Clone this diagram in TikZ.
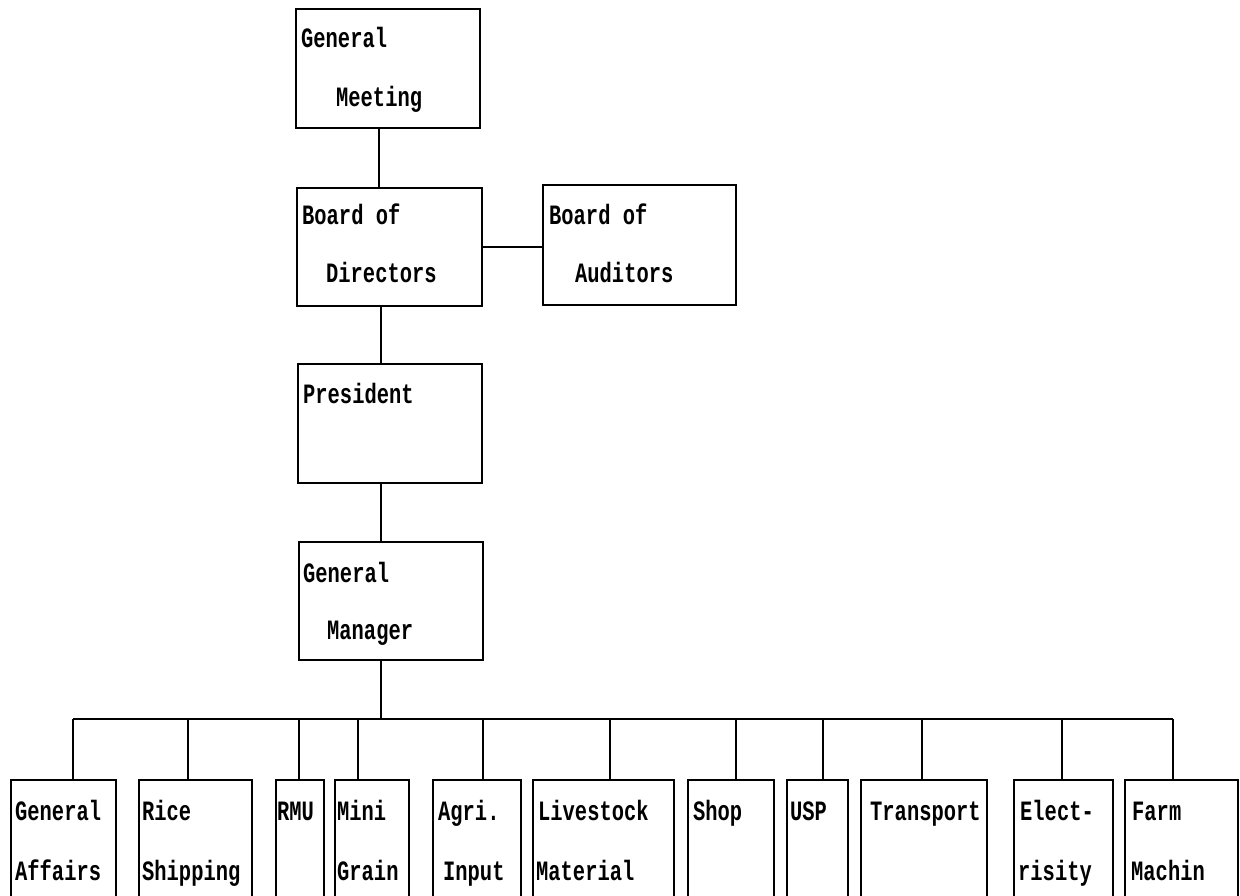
\documentclass[tikz,border=0pt]{standalone}
\usepackage{fontspec}
\newfontfamily\chartfont{Liberation Mono}[FakeStretch=0.73]
\begin{document}
\begin{tikzpicture}[x=1pt,y=-1pt,
  box/.style={draw, line width=1.6pt, inner sep=0pt, anchor=north west},
  lbl/.style={anchor=base west, inner sep=0pt, font=\chartfont\bfseries\fontsize{28}{30}\selectfont},
  conn/.style={line width=1.6pt}]
\clip (0,0) rectangle (1240,896);
% upper boxes
\node[box, minimum width=184pt, minimum height=119pt] (gmeet) at (295,8) {};
\node[box, minimum width=185pt, minimum height=118pt] (bod) at (296,187) {};
\node[box, minimum width=193pt, minimum height=120pt] (boa) at (542,184) {};
\node[box, minimum width=184pt, minimum height=119pt] (pres) at (297,363) {};
\node[box, minimum width=184pt, minimum height=118pt] (mgr) at (298,541) {};
% lower boxes
\node[box, minimum width=105pt, minimum height=140pt] (ga) at (10,779) {};
\node[box, minimum width=113pt, minimum height=140pt] (rs) at (138,779) {};
\node[box, minimum width=48pt, minimum height=140pt] (rmu) at (275,779) {};
\node[box, minimum width=74pt, minimum height=140pt] (mg) at (334,779) {};
\node[box, minimum width=88pt, minimum height=140pt] (ai) at (432,779) {};
\node[box, minimum width=141pt, minimum height=140pt] (lm) at (532,779) {};
\node[box, minimum width=86pt, minimum height=140pt] (shop) at (687,779) {};
\node[box, minimum width=61pt, minimum height=140pt] (usp) at (786,779) {};
\node[box, minimum width=126pt, minimum height=140pt] (tr) at (860,779) {};
\node[box, minimum width=99pt, minimum height=140pt] (el) at (1013,779) {};
\node[box, minimum width=113pt, minimum height=140pt] (fm) at (1124,779) {};
% labels
\node[lbl] (gmeetA) at (301,48) {General};
\node[lbl] (gmeetB) at (336,107) {Meeting};
\node[lbl] (bodA) at (302,225) {Board of};
\node[lbl] (bodB) at (326,283) {Directors};
\node[lbl] (boaA) at (549,225) {Board of};
\node[lbl] (boaB) at (575,283) {Auditors};
\node[lbl] (presA) at (303,403) {President};
\node[lbl] (mgrA) at (303,582) {General};
\node[lbl] (mgrB) at (327,639) {Manager};
\node[lbl] (gaA) at (15,820) {General};
\node[lbl] (gaB) at (15,880) {Affairs};
\node[lbl] (rsA) at (142,820) {Rice};
\node[lbl] (rsB) at (142,880) {Shipping};
\node[lbl] (rmuA) at (277,820) {RMU};
\node[lbl] (mgA) at (337,820) {Mini};
\node[lbl] (mgB) at (337,880) {Grain};
\node[lbl] (aiA) at (438,820) {Agri.};
\node[lbl] (aiB) at (443,880) {Input};
\node[lbl] (lmA) at (538,820) {Livestock};
\node[lbl] (lmB) at (536,880) {Material};
\node[lbl] (shopA) at (693,820) {Shop};
\node[lbl] (uspA) at (790,820) {USP};
\node[lbl] (trA) at (870,820) {Transport};
\node[lbl] (elA) at (1020,820) {Elect-};
\node[lbl] (elB) at (1018,880) {risity};
\node[lbl] (fmA) at (1132,820) {Farm};
\node[lbl] (fmB) at (1131,880) {Machin};
% spine connectors
\coordinate (sp1) at (379,0);
\coordinate (sp2) at (381,0);
\draw[conn] (sp1 |- gmeet.south) -- (sp1 |- bod.north);
\draw[conn] (bod.east) -- (bod.east -| boa.west);
\draw[conn] (sp2 |- bod.south) -- (sp2 |- pres.north);
\draw[conn] (sp2 |- pres.south) -- (sp2 |- mgr.north);
% bus
\coordinate (d1) at (73,719);
\coordinate (d2) at (188,719);
\coordinate (d3) at (299,719);
\coordinate (d4) at (358,719);
\coordinate (d5) at (483,719);
\coordinate (d6) at (610,719);
\coordinate (d7) at (736,719);
\coordinate (d8) at (823,719);
\coordinate (d9) at (922,719);
\coordinate (d10) at (1062,719);
\coordinate (d11) at (1173,719);
\draw[conn] (sp2 |- mgr.south) -- (sp2 |- d1);
\draw[conn] (d1) -- (d11);
\draw[conn] (d1) -- (d1 |- ga.north);
\draw[conn] (d2) -- (d2 |- rs.north);
\draw[conn] (d3) -- (d3 |- rmu.north);
\draw[conn] (d4) -- (d4 |- mg.north);
\draw[conn] (d5) -- (d5 |- ai.north);
\draw[conn] (d6) -- (d6 |- lm.north);
\draw[conn] (d7) -- (d7 |- shop.north);
\draw[conn] (d8) -- (d8 |- usp.north);
\draw[conn] (d9) -- (d9 |- tr.north);
\draw[conn] (d10) -- (d10 |- el.north);
\draw[conn] (d11) -- (d11 |- fm.north);
\end{tikzpicture}
\end{document}
